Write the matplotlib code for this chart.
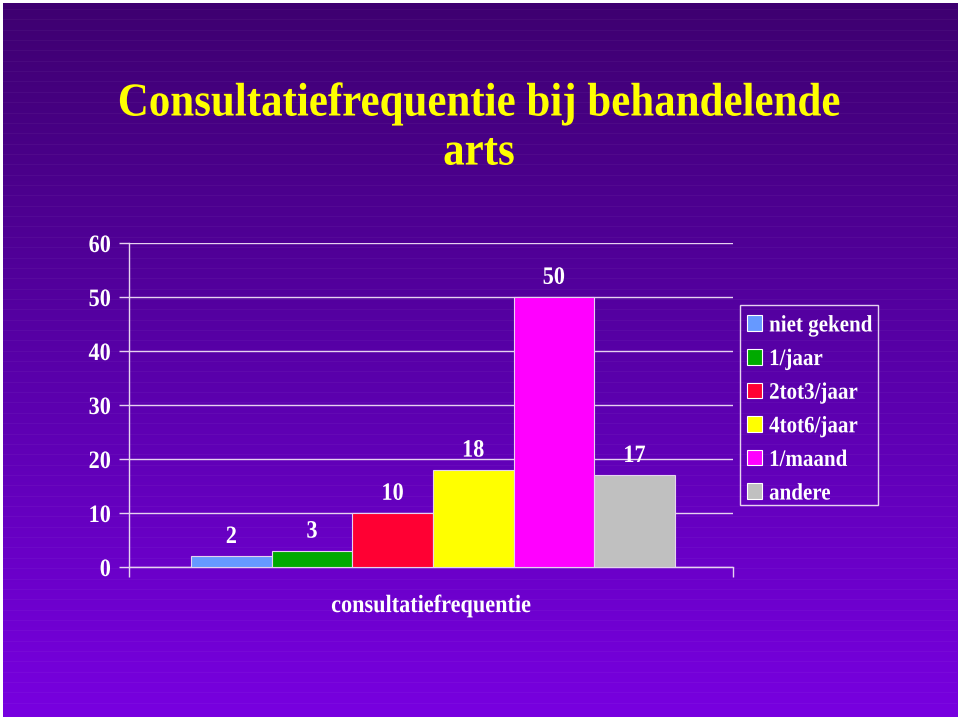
import matplotlib
matplotlib.use("Agg")
import matplotlib.pyplot as plt
import numpy as np
from matplotlib.colors import LinearSegmentedColormap
from matplotlib.patches import Patch, Rectangle
from matplotlib.patheffects import AbstractPathEffect
from matplotlib.transforms import Affine2D

labels = ["niet gekend", "1/jaar", "2tot3/jaar", "4tot6/jaar", "1/maand", "andere"]
values = [2, 3, 10, 18, 50, 17]
colors = ["#6699ff", "#00aa00", "#ff0033", "#ffff00", "#ff00ff", "#c0c0c0"]
yticks = [0, 10, 20, 30, 40, 50, 60]

title = "Consultatiefrequentie bij behandelende\narts"
xlabel = "consultatiefrequentie"

line_col = "#e6d2f0"
serif = ["Liberation Serif", "DejaVu Serif"]
SX = 0.89  # the original text looks squeezed horizontally


class Squeeze(AbstractPathEffect):
    # narrow the glyphs around the text anchor
    def __init__(self, sx=SX, anchor="center"):
        super().__init__()
        self.sx = sx
        self.anchor = anchor

    def draw_path(self, renderer, gc, tpath, affine, rgbFace=None):
        xs = tpath.vertices[:, 0]
        if len(xs) == 0:
            return
        cx = {"left": xs.min(), "right": xs.max(),
              "center": 0.5 * (xs.min() + xs.max())}[self.anchor]
        t = Affine2D().translate(-cx, 0).scale(self.sx, 1).translate(cx, 0) + affine
        renderer.draw_path(gc, tpath, t, rgbFace)


fig = plt.figure(figsize=(9.6, 7.2), dpi=100, facecolor="white")

# gradient background
bg = fig.add_axes([0.003, 0.004, 0.994, 0.992])
bg.set_axis_off()
cmap = LinearSegmentedColormap.from_list("bg", ["#3e0070", "#5800a8", "#7800e0"])
grad = np.linspace(0, 1, 256).reshape(-1, 1)
bg.imshow(grad, aspect="auto", cmap=cmap, extent=[0, 1, 0, 1], origin="upper")
for yy in np.arange(0.02, 1, 0.0145):
    bg.axhline(yy, color="white", alpha=0.04, lw=0.8)
bg.set_xlim(0, 1)
bg.set_ylim(0, 1)

ax = fig.add_axes([0.1344, 0.2125, 0.629, 0.45])
ax.set_facecolor("none")
x = np.arange(len(values))
ax.bar(x, values, width=1.0, color=colors, edgecolor=line_col, linewidth=0.8, zorder=3)
for xi, v in zip(x, values):
    t = ax.annotate(str(v), (xi, v), xytext=(0, 9.5), textcoords="offset points",
                    ha="center", va="baseline", color="white", fontsize=18,
                    fontweight="bold", family=serif)
    t.set_path_effects([Squeeze(anchor="center")])

ax.set_xlim(-1.27, 6.22)
ax.set_ylim(0, 60)
ax.set_yticks(yticks)
ax.set_yticklabels([str(t) for t in yticks], color="white", fontsize=18,
                   fontweight="bold", family=serif)
for t in ax.get_yticklabels():
    t.set_path_effects([Squeeze(anchor="right")])
ax.set_xticks([-1.27, 6.22])
ax.set_xticklabels(["", ""])
ax.tick_params(axis="both", colors=line_col, length=7, width=1)
ax.tick_params(axis="y", labelcolor="white", pad=6)
ax.yaxis.grid(True, color=line_col, linewidth=1)
ax.set_axisbelow(True)
for s in ["top", "right"]:
    ax.spines[s].set_visible(False)
for s in ["left", "bottom"]:
    ax.spines[s].set_color(line_col)
    ax.spines[s].set_linewidth(1)
xl = ax.set_xlabel(xlabel, color="white", fontsize=18, fontweight="bold",
                   family=serif, labelpad=9)
xl.set_path_effects([Squeeze(anchor="center")])

handles = [Patch(facecolor=c, edgecolor="white", linewidth=0.8, label=l)
           for c, l in zip(colors, labels)]
leg = fig.legend(handles=handles, loc="upper left", bbox_to_anchor=(0.778, 0.562),
                 frameon=False, prop={"family": serif, "size": 17, "weight": "bold"},
                 labelcolor="white", handlelength=0.64, handleheight=0.64,
                 handletextpad=0.3, labelspacing=0.53, borderpad=0, borderaxespad=0)
for t in leg.get_texts():
    t.set_path_effects([Squeeze(anchor="left")])
fig.patches.append(Rectangle((740 / 960, 1 - 505 / 720), 138 / 960, 200 / 720,
                             transform=fig.transFigure, fill=False,
                             edgecolor=line_col, linewidth=1))

tt = fig.text(0.499, 0.884, title, ha="center", va="top", color="#ffff00",
              fontsize=34, fontweight="bold", family=serif, linespacing=1.22)
tt.set_path_effects([Squeeze(sx=0.91, anchor="center")])

fig.savefig("out.png", dpi=100, facecolor="white")
